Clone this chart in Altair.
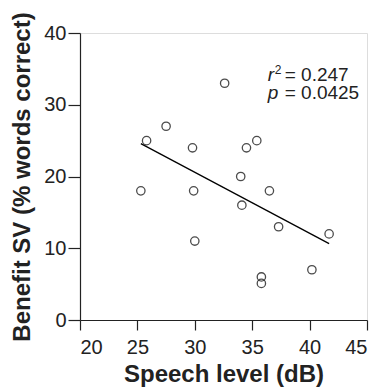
import altair as alt
import pandas as pd

speech_level = [25.3, 25.8, 27.5, 29.8, 29.9, 30.0, 32.6, 34.0, 34.1, 34.5, 35.4, 36.5, 35.8, 35.8, 37.3, 40.2, 41.7]
benefit_sv = [18, 25, 27, 24, 18, 11, 33, 20, 16, 24, 25, 18, 6, 5.1, 13, 7, 12]

x_ticks = [20, 25, 30, 35, 40, 45]
y_ticks = [0, 10, 20, 30, 40]

ann_x = [36.35]
ann_r_y = [33.3]
ann_p_y = [30.8]

df = pd.DataFrame({"x": speech_level, "y": benefit_sv})

FONT = "Liberation Sans"
INK = "#222222"

xscale = alt.Scale(domain=[20, 45], nice=False, zero=False)
yscale = alt.Scale(domain=[0, 40], nice=False)

xaxis = alt.Axis(values=x_ticks, title="Speech level (dB)", grid=False,
                 tickSize=10, labelFontSize=20, titleFontSize=24, titleFontWeight="bold",
                 labelColor=INK, titleColor=INK, domainColor=INK, tickColor=INK,
                 labelFont=FONT, titleFont=FONT, labelPadding=7, titlePadding=5,
                 domainWidth=1.2, tickWidth=1.2)
yaxis = alt.Axis(values=y_ticks, title="Benefit SV (% words correct)", grid=False,
                 tickSize=12, labelFontSize=20, titleFontSize=24, titleFontWeight="bold",
                 labelColor=INK, titleColor=INK, domainColor=INK, tickColor=INK,
                 labelFont=FONT, titleFont=FONT, labelPadding=2, titlePadding=9,
                 domainWidth=1.2, tickWidth=1.2)

base = alt.Chart(df)

points = base.mark_point(shape="circle", filled=False, color="black", size=70, strokeWidth=1.3).encode(
    x=alt.X("x:Q", scale=xscale, axis=xaxis),
    y=alt.Y("y:Q", scale=yscale, axis=yaxis),
)

line = base.transform_regression("x", "y").mark_line(color="black", strokeWidth=1.3).encode(
    x=alt.X("x:Q", scale=xscale),
    y=alt.Y("y:Q", scale=yscale),
)

ann_df = pd.DataFrame({"x": ann_x, "ry": ann_r_y, "py": ann_p_y})
ann = alt.Chart(ann_df)
r_it = ann.mark_text(text="r", fontStyle="italic", font=FONT, fontSize=19, align="left", baseline="alphabetic", color=INK).encode(
    x=alt.X("x:Q", scale=xscale), y=alt.Y("ry:Q", scale=yscale))
r_sup = ann.mark_text(text="2", font=FONT, fontSize=12, align="left", baseline="alphabetic", dx=7, dy=-7, color=INK).encode(
    x=alt.X("x:Q", scale=xscale), y=alt.Y("ry:Q", scale=yscale))
r_val = ann.mark_text(text="= 0.247", font=FONT, fontSize=19, align="left", baseline="alphabetic", dx=17, color=INK).encode(
    x=alt.X("x:Q", scale=xscale), y=alt.Y("ry:Q", scale=yscale))
p_it = ann.mark_text(text="p", fontStyle="italic", font=FONT, fontSize=19, align="left", baseline="alphabetic", color=INK).encode(
    x=alt.X("x:Q", scale=xscale), y=alt.Y("py:Q", scale=yscale))
p_val = ann.mark_text(text="= 0.0425", font=FONT, fontSize=19, align="left", baseline="alphabetic", dx=17, color=INK).encode(
    x=alt.X("x:Q", scale=xscale), y=alt.Y("py:Q", scale=yscale))

chart = alt.layer(line, points, r_it, r_sup, r_val, p_it, p_val).properties(
    width=287, height=287,
    autosize=alt.AutoSizeParams(type="none"),
    padding={"left": 72, "top": 25, "right": 5, "bottom": 70},
).configure_view(stroke=None).configure(background="white")

chart.save("out.html", embed_options={"renderer": "svg", "actions": False})
